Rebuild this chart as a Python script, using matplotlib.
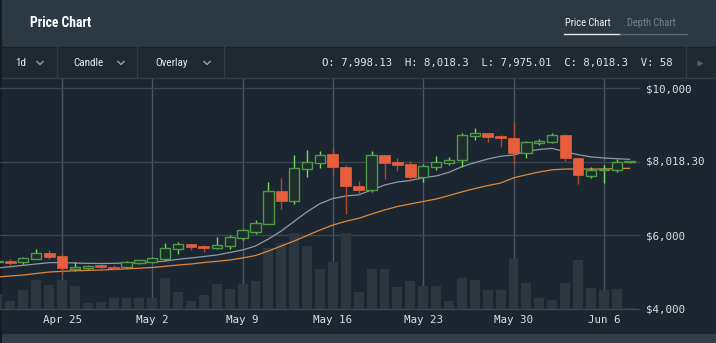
import matplotlib
matplotlib.use("Agg")
import matplotlib.pyplot as plt
from matplotlib import font_manager
from matplotlib.font_manager import FontProperties
import pandas as pd

# ---- daily BTC candles, Apr 20 - Jun 8 ----
dates = pd.date_range("2018-04-20", "2018-06-08", freq="D")

opens = [5270, 5303, 5268, 5357, 5520, 5439, 5094, 5122, 5186, 5149,
         5131, 5249, 5285, 5349, 5621, 5756, 5719, 5648, 5710, 5919,
         6101, 6308, 7204, 6940, 7793, 7955, 8200, 7864, 7348, 7231,
         8190, 8000, 7928, 7592, 7847, 7973, 8037, 8689, 8770, 8706,
         8651, 8244, 8507, 8526, 8724, 8091, 7620, 7765, 7765, 7998.13]
highs = [5320, 5349, 5410, 5629, 5602, 5493, 5268, 5200, 5220, 5186,
         5290, 5340, 5400, 5784, 5829, 5770, 5725, 5946, 6000, 6180,
         6416, 7448, 7557, 8181, 8317, 8281, 8363, 7918, 7475, 8281,
         8190, 8090, 8018, 7946, 8154, 8140, 8770, 8924, 8790, 8720,
         9085, 8560, 8620, 8770, 8740, 8100, 7850, 7910, 8060, 8018.3]
lows = [5250, 5194, 5222, 5357, 5349, 4942, 5023, 5077, 5077, 5060,
        5100, 5230, 5260, 5312, 5493, 5602, 5540, 5630, 5640, 5880,
        6028, 6300, 6723, 6851, 7592, 7820, 7638, 6579, 7100, 7190,
        7538, 7760, 7484, 7440, 7774, 7910, 7864, 8600, 8526, 8407,
        7937, 8091, 8460, 8500, 8018, 7394, 7550, 7421, 7720, 7975.01]
closes = [5300, 5249, 5376, 5512, 5420, 5105, 5149, 5167, 5131, 5113,
          5268, 5322, 5376, 5648, 5756, 5683, 5656, 5729, 5946, 6145,
          6326, 7204, 6940, 7820, 7983, 8190, 7847, 7331, 7231, 8190,
          7955, 7910, 7592, 7874, 7983, 8055, 8724, 8770, 8679, 8634,
          8244, 8543, 8561, 8724, 8091, 7638, 7774, 7801, 7983, 8018.3]
volumes = [1500, 800, 1900, 2900, 2370, 2900, 2300, 600, 700, 1100,
           1100, 1100, 1100, 3100, 1700, 800, 1400, 2500, 2000, 2500,
           2770, 6100, 6600, 7600, 6300, 4000, 4700, 7600, 1700, 4000,
           4000, 2200, 2800, 2300, 2300, 800, 3100, 2900, 1900, 1900,
           5100, 2600, 1100, 900, 2600, 4900, 2100, 1900, 2000, 58]
ma_fast = [5113, 5149, 5186, 5222, 5257, 5262, 5249, 5240, 5235, 5240,
           5249, 5254, 5268, 5303, 5349, 5385, 5425, 5466, 5534, 5602,
           5710, 5900, 6117, 6380, 6640, 6860, 7000, 7068, 7100, 7231,
           7366, 7448, 7489, 7565, 7611, 7711, 7864, 7973, 8072, 8146,
           8181, 8280, 8330, 8360, 8270, 8190, 8130, 8100, 8080, 8064]
ma_slow = [4869, 4896, 4923, 4964, 5004, 5023, 5037, 5048, 5059, 5075,
           5091, 5108, 5127, 5159, 5194, 5222, 5262, 5295, 5330, 5385,
           5452, 5575, 5710, 5846, 5995, 6145, 6280, 6381, 6462, 6579,
           6688, 6783, 6851, 6919, 6986, 7080, 7180, 7270, 7350, 7420,
           7560, 7645, 7720, 7780, 7800, 7800, 7800, 7801, 7810, 7820]

tick_labels = ["Apr 25", "May 2", "May 9", "May 16", "May 23", "May 30", "Jun 6"]
grid_prices = [4000, 6000, 8000, 10000]
axis_prices = [4000, 6000, 10000]

last = {"O": "7,998.13", "H": "8,018.3", "L": "7,975.01", "C": "8,018.3", "V": "58"}

# ---- colours ----
BG_HEADER = "#2d3942"
BG_TOOL = "#1f2931"
BG_CHART = "#1c2630"
BG_FOOT = "#323e47"
GRID = "#3a4650"
VGRID = "#4a5660"
VOL = "#2c3740"
UP_EDGE = "#4e9a46"
UP_FILL = "#1e2d2b"
UP_WICK = "#74d955"
DN_FILL = "#e65e3b"
DN_WICK = "#b0472f"
MA_FAST = "#8e9aa6"
MA_SLOW = "#e2873a"
TXT = "#dcdfe2"


def pick_font(candidates):
    for name in candidates:
        try:
            font_manager.findfont(FontProperties(family=name), fallback_to_default=False)
            return name
        except Exception:
            continue
    return "DejaVu Sans"


UI_FONT = pick_font(["Roboto Condensed", "Liberation Sans Narrow", "Roboto", "Liberation Sans"])
MONO = "DejaVu Sans Mono"

W, H = 716, 343
fig = plt.figure(figsize=(W / 100, H / 100), dpi=100)
fig.patch.set_facecolor(BG_CHART)

# ---- page furniture in pixel coordinates ----
bg = fig.add_axes([0, 0, 1, 1])
bg.set_xlim(0, W)
bg.set_ylim(H, 0)
bg.axis("off")
bg.add_patch(plt.Rectangle((0, 0), W, 47, color=BG_HEADER, lw=0))
bg.add_patch(plt.Rectangle((0, 47), W, 31, color=BG_TOOL, lw=0))
bg.add_patch(plt.Rectangle((0, 78), W, 256, color=BG_CHART, lw=0))
bg.add_patch(plt.Rectangle((0, 334), W, 9, color=BG_FOOT, lw=0))
bg.plot([0, W], [47, 47], color="#161f26", lw=1)
bg.plot([0, W], [78, 78], color="#343f48", lw=1)
bg.plot([1, 1], [0, H], color="#141b21", lw=1.5)

bg.text(30, 23, "Price Chart", family=UI_FONT, weight="bold", size=9.8,
        color="white", va="center", ha="left")
bg.text(565, 23, "Price Chart", family=UI_FONT, size=7.6, color="#eef1f3",
        va="center", ha="left")
bg.text(627, 23, "Depth Chart", family=UI_FONT, size=7.6, color="#76818a",
        va="center", ha="left")
bg.plot([564, 620], [33.5, 33.5], color="#e6e9eb", lw=1)
bg.plot([620, 687], [33.5, 33.5], color="#5d6870", lw=1)

menu = [("1d", 15, 40), ("Candle", 73, 121), ("Overlay", 155, 207)]
for label, tx, cx in menu:
    bg.text(tx, 63, label, family=UI_FONT, size=8, color="#e8ebee",
            va="center", ha="left")
    bg.plot([cx - 3, cx, cx + 3], [61.5, 64.5, 61.5], color="#8d98a1", lw=1.1)
for sx in [57, 137, 224, 686]:
    bg.plot([sx, sx], [47, 78], color="#323d46", lw=1)

ohlc = "  ".join(f"{k}: {v}" for k, v in last.items())
bg.text(673, 63, ohlc, family=MONO, size=7.7, color="#e1e4e7",
        va="center", ha="right")
bg.plot([700], [63], marker=">", ms=5, color="#56616a", mec="none")

# ---- chart axes ----
left_px, right_px, top_px, bot_px = 0, 639, 79, 309
rect = [left_px / W, (H - bot_px) / H, (right_px - left_px) / W, (bot_px - top_px) / H]

idx = list(range(len(dates)))
px_per_day = 12.9
x0 = 5 - (62 - left_px) / px_per_day
x1 = x0 + (right_px - left_px) / px_per_day
price_per_px = 6000 / (bot_px - 88)
y0 = 4000
y1 = 10000 + (88 - top_px) * price_per_px

base = fig.add_axes(rect)
base.set_facecolor("none")
base.set_xlim(x0, x1)
base.set_ylim(y0, y1)
for s in base.spines.values():
    s.set_visible(False)

date_names = [f"{d:%b} {d.day}" for d in dates]
tick_pos = [date_names.index(t) for t in tick_labels]
for tp in tick_pos:
    base.axvline(tp, color=VGRID, lw=1, zorder=0)
for gp in grid_prices:
    base.axhline(gp, color=GRID, lw=1, zorder=0, clip_on=False)

base.set_xticks(tick_pos)
base.set_xticklabels(tick_labels, family=MONO, size=7.8, color=TXT)
base.tick_params(axis="x", length=0, pad=4.5)
base.yaxis.tick_right()
ytick_vals = axis_prices + [closes[-1]]
ytick_txt = [f"${v:,.0f}" for v in axis_prices] + [f"${closes[-1]:,.2f}"]
base.set_yticks(ytick_vals)
base.set_yticklabels(ytick_txt, family=MONO, size=7.8, color=TXT)
base.tick_params(axis="y", length=0, pad=5)

# volume bars
vol = fig.add_axes(rect, sharex=base)
vol.set_facecolor("none")
vol.set_ylim(0, (bot_px - top_px) * 100)
vol.axis("off")
vol.bar(idx, volumes, width=0.76, color=VOL, lw=0)

# candles and moving averages
cax = fig.add_axes(rect, sharex=base, sharey=base)
cax.set_facecolor("none")
cax.axis("off")
cax.set_xlim(x0, x1)
cax.set_ylim(y0, y1)

cax.plot(idx, ma_slow, color=MA_SLOW, lw=0.9, zorder=2)
cax.plot(idx, ma_fast, color=MA_FAST, lw=0.9, zorder=2)

min_body = 1.2 * price_per_px
for i, o, h, l, c in zip(idx, opens, highs, lows, closes):
    up = c >= o
    lo_b, hi_b = min(o, c), max(o, c)
    height = max(hi_b - lo_b, min_body)
    cax.vlines(i, l, h, color=UP_WICK if up else DN_WICK, lw=1.0, zorder=3)
    if up:
        cax.bar(i, height, bottom=lo_b, width=0.8, color=UP_FILL,
                edgecolor=UP_EDGE, lw=1.0, zorder=4)
    else:
        cax.bar(i, height, bottom=lo_b, width=0.84, color=DN_FILL,
                edgecolor=DN_FILL, lw=0.5, zorder=4)

fig.savefig("out.png", dpi=100, facecolor=fig.get_facecolor())
